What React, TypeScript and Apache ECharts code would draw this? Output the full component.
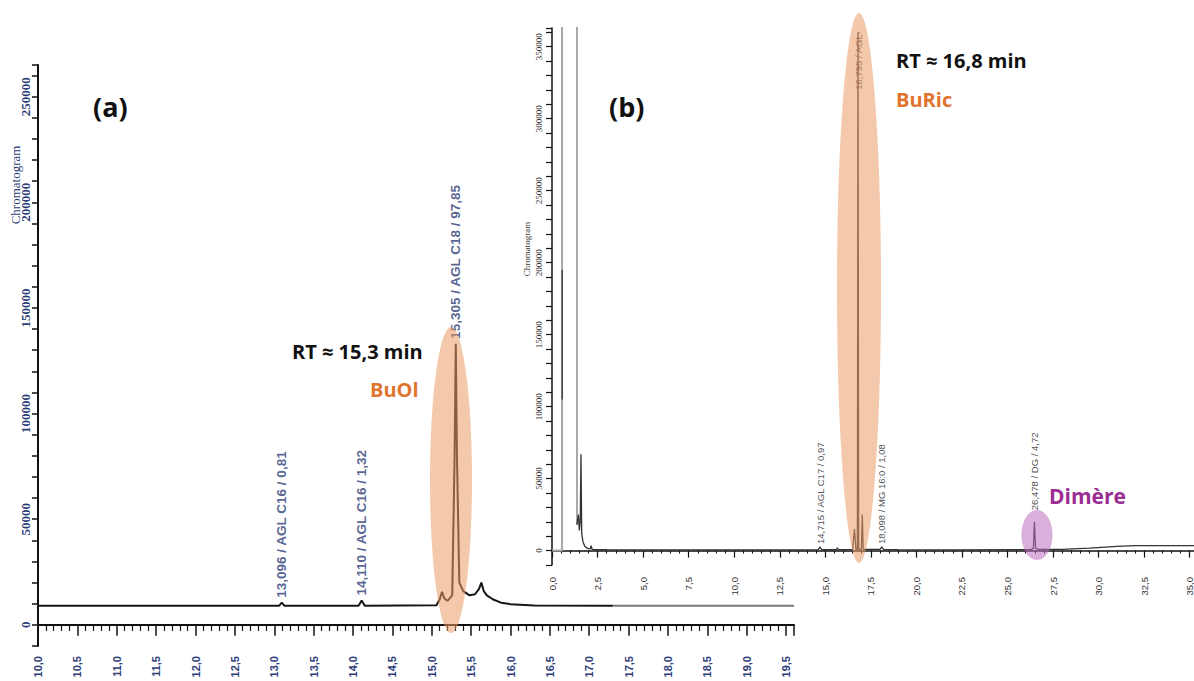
import React, { useEffect, useRef } from "react";
import * as echarts from "echarts";

// ---------- Panel (a) : BuOl ----------
const aTime = [10.0, 12.6, 13.06, 13.096, 13.13, 14.07, 14.11, 14.15, 15.06, 15.1, 15.13, 15.16, 15.2, 15.26, 15.29, 15.305, 15.32, 15.35, 15.4, 15.48, 15.55, 15.6, 15.63, 15.66, 15.7, 15.78, 15.88, 16.0, 16.3, 17.3];
const aSignal = [9000, 9000, 9000, 10500, 9000, 9000, 11500, 9000, 9300, 12000, 15600, 12500, 11400, 14000, 80000, 133000, 80000, 20000, 16000, 14000, 14500, 17000, 20000, 16000, 14000, 12000, 10500, 9800, 9200, 9000];
const aTailTime = [17.3, 19.6];
const aTailSignal = [9000, 9000];
const aPeakTime = [13.096, 14.11, 15.305];
const aPeakAnchor = [10500, 11500, 133000];
const aPeakText = ["13,096 / AGL C16 / 0,81", "14,110 / AGL C16 / 1,32", "15,305 / AGL C18 / 97,85"];

// ---------- Panel (b) : BuRic ----------
const bSolventTime = [0, 0.55, 0.55, 1.37, 1.37];
const bSolventSignal = [0, 0, 2000000, 2000000, 18000];
const bOverlayTime = [0.56, 0.56];
const bOverlaySignal = [105000, 195000];
const bTime = [1.37, 1.45, 1.5, 1.55, 1.59, 1.63, 1.7, 1.8, 1.95, 2.1, 2.15, 2.2, 3.0, 8.0, 14.6, 14.715, 14.8, 15.6, 15.66, 15.72, 16.5, 16.6, 16.68, 16.76, 16.795, 16.83, 16.98, 17.03, 17.08, 17.5, 18.0, 18.098, 18.2, 19.0, 22.0, 26.3, 26.42, 26.478, 26.54, 26.7, 28.0, 29.5, 31.0, 32.0, 35.4];
const bSignal = [18000, 25000, 14000, 20000, 67000, 12000, 6000, 3000, 1500, 1200, 3500, 800, 600, 500, 600, 2500, 600, 600, 2000, 600, 700, 15000, 700, 800, 360000, 800, 900, 25000, 900, 900, 900, 2500, 900, 700, 500, 700, 1500, 20000, 1500, 900, 900, 1700, 3000, 3400, 3500];
const bPeakTime = [14.715, 16.795, 18.098, 26.478];
const bPeakAnchor = [2500, 318000, 2500, 26000];
const bPeakText = ["14,715 / AGL C17 / 0,97", "16,795 / AGL-", "18,098 / MG 16:0 / 1,08", "26,478 / DG / 4,72"];

const zip = (xs: number[], ys: number[]) => xs.map((x, i) => [x, ys[i]]);
const comma = (v: number) => v.toFixed(1).replace(".", ",");
const isStep = (v: number, s: number) => Math.abs(v / s - Math.round(v / s)) < 1e-6;

const navy = "#2d3d78";
const orange = "#E0742E";
const purple = "#9B2C92";

const option: any = {
  animation: false,
  backgroundColor: "#ffffff",
  grid: [
    { left: 38, top: 65, width: 756, height: 581, containLabel: false, outerBoundsMode: "none" },
    { left: 552, top: 28, right: -3, height: 537, containLabel: false, outerBoundsMode: "none" },
  ],
  xAxis: [
    {
      type: "value", gridIndex: 0, min: 10, max: 19.6, interval: 0.5,
      axisLine: { lineStyle: { color: "#111", width: 2 } },
      axisTick: { length: 11, lineStyle: { color: "#111", width: 1.5 } },
      minorTick: { show: true, splitNumber: 5, length: 6, lineStyle: { color: "#111", width: 1.2 } },
      splitLine: { show: false },
      axisLabel: {
        rotate: 90, margin: 10, fontSize: 11, fontWeight: "bold", fontFamily: "Liberation Sans", color: navy,
        formatter: (v: number) => (isStep(v, 0.5) ? comma(v) : ""),
      },
    },
    {
      type: "value", gridIndex: 1, min: 0, max: 35.4, interval: 2.5,
      axisLine: { lineStyle: { color: "#111", width: 1.5 } },
      axisTick: { length: 7, lineStyle: { color: "#111", width: 1.2 } },
      minorTick: { show: true, splitNumber: 5, length: 3, lineStyle: { color: "#111", width: 1 } },
      splitLine: { show: false },
      axisLabel: {
        rotate: 90, margin: 12, fontSize: 9.5, fontFamily: "Liberation Sans", color: "#333",
        formatter: (v: number) => (isStep(v, 2.5) ? comma(v) : ""),
      },
    },
  ],
  yAxis: [
    {
      type: "value", gridIndex: 0, min: -10000, max: 265000, interval: 10000,
      axisLine: { show: true, lineStyle: { color: "#111", width: 2 } },
      axisTick: { show: true, length: 6, lineStyle: { color: "#111", width: 1.5 } },
      splitLine: { show: false },
      axisLabel: {
        rotate: 90, margin: 6, fontSize: 13, fontWeight: "bold", fontFamily: "Liberation Serif", color: navy,
        formatter: (v: number) => (v >= 0 && isStep(v, 50000) ? String(v) : ""),
      },
    },
    {
      type: "value", gridIndex: 1, min: -10000, max: 363000, interval: 10000,
      axisLine: { show: true, lineStyle: { color: "#111", width: 1.5 } },
      axisTick: { show: true, length: 6, lineStyle: { color: "#111", width: 1.2 } },
      splitLine: { show: false },
      axisLabel: {
        rotate: 90, margin: 9, fontSize: 9, fontFamily: "Liberation Serif", color: "#333",
        formatter: (v: number) => (v >= 0 && isStep(v, 50000) ? String(v) : ""),
      },
    },
  ],
  series: [
    {
      type: "line", xAxisIndex: 0, yAxisIndex: 0, data: zip(aTime, aSignal), symbol: "none",
      lineStyle: { color: "#151515", width: 2 }, z: 3, silent: true,
    },
    {
      type: "line", xAxisIndex: 0, yAxisIndex: 0, data: zip(aTailTime, aTailSignal), symbol: "none",
      lineStyle: { color: "#777", width: 2 }, z: 3, silent: true,
    },
    {
      type: "scatter", xAxisIndex: 0, yAxisIndex: 0, symbolSize: 0, silent: true, z: 5,
      data: aPeakTime.map((t, i) => ({ value: [t, aPeakAnchor[i]], name: aPeakText[i] })),
      label: {
        show: true, position: "top", distance: 5, rotate: 90, align: "left", verticalAlign: "middle",
        formatter: "{b}", fontSize: 13.5, fontWeight: "bold", fontFamily: "Liberation Sans", color: navy,
      },
    },
    {
      type: "line", xAxisIndex: 1, yAxisIndex: 1, data: zip(bSolventTime, bSolventSignal), symbol: "none",
      lineStyle: { color: "#a8a8a8", width: 2 }, z: 3, silent: true,
    },
    {
      type: "line", xAxisIndex: 1, yAxisIndex: 1, data: zip(bOverlayTime, bOverlaySignal), symbol: "none",
      lineStyle: { color: "#444", width: 1.5 }, z: 4, silent: true,
    },
    {
      type: "line", xAxisIndex: 1, yAxisIndex: 1, data: zip(bTime, bSignal), symbol: "none",
      lineStyle: { color: "#333", width: 1.3 }, z: 4, silent: true,
    },
    {
      type: "scatter", xAxisIndex: 1, yAxisIndex: 1, symbolSize: 0, silent: true, z: 5,
      data: bPeakTime.map((t, i) => ({ value: [t, bPeakAnchor[i]], name: bPeakText[i] })),
      label: {
        show: true, position: "top", distance: 3, rotate: 90, align: "left", verticalAlign: "middle",
        formatter: "{b}", fontSize: 9.5, fontFamily: "Liberation Sans", color: "#222",
      },
    },
  ],
  graphic: [
    { type: "ellipse", silent: true, z: 100, shape: { cx: 451, cy: 480, rx: 21, ry: 153 }, style: { fill: "rgba(235,155,100,0.55)" } },
    { type: "ellipse", silent: true, z: 100, shape: { cx: 859, cy: 288, rx: 22, ry: 275 }, style: { fill: "rgba(235,155,100,0.55)" } },
    { type: "ellipse", silent: true, z: 100, shape: { cx: 1037, cy: 535, rx: 15.5, ry: 25 }, style: { fill: "rgba(190,110,190,0.55)" } },
    { type: "text", x: 93, y: 106, z: 110, style: { text: "(a)", font: 'bold 27px "Open Sans"', fill: "#111", verticalAlign: "middle" } },
    { type: "text", x: 609, y: 106, z: 110, style: { text: "(b)", font: 'bold 27px "Open Sans"', fill: "#111", verticalAlign: "middle" } },
    { type: "text", x: 292, y: 351, z: 110, style: { text: "RT ≈ 15,3 min", font: 'bold 20px "Open Sans"', fill: "#111", verticalAlign: "middle" } },
    { type: "text", x: 370, y: 389, z: 110, style: { text: "BuOl", font: 'bold 20px "Open Sans"', fill: orange, verticalAlign: "middle" } },
    { type: "text", x: 896, y: 60, z: 110, style: { text: "RT ≈ 16,8 min", font: 'bold 20px "Open Sans"', fill: "#111", verticalAlign: "middle" } },
    { type: "text", x: 896, y: 99, z: 110, style: { text: "BuRic", font: 'bold 20px "Open Sans"', fill: orange, verticalAlign: "middle" } },
    { type: "text", x: 1049, y: 496, z: 110, style: { text: "Dimère", font: 'bold 21px "Open Sans"', fill: purple, verticalAlign: "middle" } },
    { type: "text", x: 15, y: 185, rotation: Math.PI / 2, z: 110, style: { text: "Chromatogram", font: '13px "Liberation Serif"', fill: navy, align: "center", verticalAlign: "middle" } },
    { type: "text", x: 527, y: 249, rotation: Math.PI / 2, z: 110, style: { text: "Chromatogram", font: '9px "Liberation Serif"', fill: "#333", align: "center", verticalAlign: "middle" } },
  ],
};

export default function App() {
  const ref = useRef<HTMLDivElement>(null);
  useEffect(() => {
    document.body.style.margin = "0";
    document.body.style.overflow = "hidden";
    const chart = echarts.init(ref.current as HTMLDivElement, null, { renderer: "svg" });
    chart.setOption(option);
    return () => chart.dispose();
  }, []);
  return <div ref={ref} style={{ width: 1194, height: 681 }} />;
}
